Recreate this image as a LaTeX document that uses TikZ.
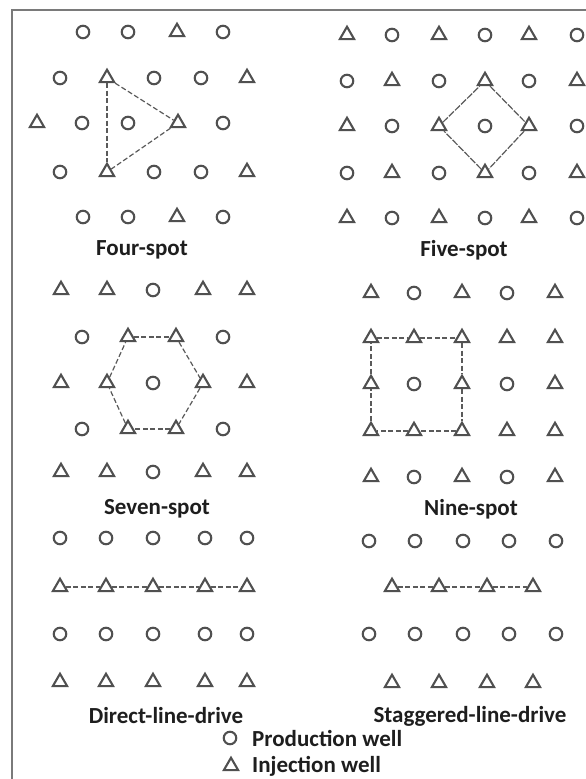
\documentclass[tikz,border=0pt]{standalone}
\usepackage{fontspec}
\setmainfont{Carlito}
\usetikzlibrary{shapes.geometric}
\definecolor{wellc}{HTML}{505050}
\definecolor{linec}{HTML}{5A5A5A}
\definecolor{framec}{HTML}{7A7A7A}
\definecolor{textc}{HTML}{1E1E1E}
\tikzset{
  prod/.style={circle, draw=wellc, line width=2.1pt, minimum size=12.5pt, inner sep=0pt},
  inj/.style={regular polygon, regular polygon sides=3, draw=wellc, line width=2.1pt, minimum size=16.5pt, inner sep=0pt},
  conn/.style={draw=linec, line width=1.2pt, dash pattern=on 5pt off 2.5pt},
  lbl/.style={font=\bfseries\fontsize{23}{27}\selectfont, text=textc, inner sep=0pt},
  framel/.style={draw=framec, line width=2.5pt}
}
\newcommand\mkP[3]{\node[prod] (#1) at (#2,#3) {};}
\newcommand\mkI[3]{\node[inj] (#1) at (#2,#3) {};}
\begin{document}
\begin{tikzpicture}[x=1pt,y=-1pt]
\useasboundingbox (0,0) rectangle (586,779);
\fill[white] (0,0) rectangle (586,779);
\coordinate (ftl) at (12,10);
\coordinate (ftr) at (586,10);
\coordinate (fbl) at (12,779);
\draw[framel] (ftr) -- (ftl) -- (fbl);
% ---------- Four-spot
\mkP{a11}{83}{32} \mkP{a12}{128}{32} \mkI{a13}{177}{32} \mkP{a14}{223}{32}
\mkP{a21}{60}{78} \mkI{a22}{107}{78} \mkP{a23}{154}{78} \mkP{a24}{201}{78} \mkI{a25}{247}{78}
\mkI{a31}{37}{123} \mkP{a32}{82}{123} \mkP{a33}{128}{123} \mkI{a34}{178}{123} \mkP{a35}{223}{123}
\mkP{a41}{60}{172} \mkI{a42}{107}{172} \mkP{a43}{154}{172} \mkP{a44}{201}{172} \mkI{a45}{247}{172}
\mkP{a51}{83}{217} \mkP{a52}{128}{217} \mkI{a53}{177}{217} \mkP{a54}{223}{217}
\draw[conn] (a22) -- (a42);
\draw[conn] (a22) -- (a34);
\draw[conn] (a34) -- (a42);
\node[lbl] (la) at (142,250) {Four-spot};
% ---------- Five-spot
\mkI{b11}{347}{35} \mkP{b12}{392}{35} \mkI{b13}{439}{35} \mkP{b14}{485}{35} \mkI{b15}{529}{35} \mkP{b16}{577}{35}
\mkP{b21}{347}{81} \mkI{b22}{392}{81} \mkP{b23}{439}{81} \mkI{b24}{485}{81} \mkP{b25}{529}{81} \mkI{b26}{577}{81}
\mkI{b31}{347}{126} \mkP{b32}{392}{126} \mkI{b33}{439}{126} \mkP{b34}{485}{126} \mkI{b35}{529}{126} \mkP{b36}{577}{126}
\mkP{b41}{347}{173} \mkI{b42}{392}{173} \mkP{b43}{439}{173} \mkI{b44}{485}{173} \mkP{b45}{529}{173} \mkI{b46}{577}{173}
\mkI{b51}{347}{218} \mkP{b52}{392}{218} \mkI{b53}{439}{218} \mkP{b54}{485}{218} \mkI{b55}{529}{218} \mkP{b56}{577}{218}
\draw[conn, dash pattern=on 7pt off 1.5pt] (b24) -- (b35);
\draw[conn, dash pattern=on 7pt off 1.5pt] (b35) -- (b44);
\draw[conn, dash pattern=on 7pt off 1.5pt] (b44) -- (b33);
\draw[conn, dash pattern=on 7pt off 1.5pt] (b33) -- (b24);
\node[lbl] (lb) at (464,250) {Five-spot};
% ---------- Seven-spot
\mkI{c11}{61}{290} \mkI{c12}{107}{290} \mkP{c13}{153}{290} \mkI{c14}{203}{290} \mkI{c15}{247}{290}
\mkP{c21}{82}{337} \mkI{c22}{128}{337} \mkI{c23}{176}{337} \mkP{c24}{223}{337}
\mkI{c31}{61}{383} \mkI{c32}{107}{383} \mkP{c33}{153}{383} \mkI{c34}{203}{383} \mkI{c35}{247}{383}
\mkP{c41}{82}{429} \mkI{c42}{128}{429} \mkI{c43}{176}{429} \mkP{c44}{223}{429}
\mkI{c51}{61}{472} \mkI{c52}{107}{472} \mkP{c53}{153}{472} \mkI{c54}{203}{472} \mkI{c55}{247}{472}
\draw[conn] (c22) -- (c23);
\draw[conn] (c23) -- (c34);
\draw[conn] (c34) -- (c43);
\draw[conn] (c43) -- (c42);
\draw[conn] (c42) -- (c32);
\draw[conn] (c32) -- (c22);
\node[lbl] (lc) at (157,509) {Seven-spot};
% ---------- Nine-spot
\mkI{d11}{371}{293} \mkP{d12}{414}{293} \mkI{d13}{462}{293} \mkP{d14}{507}{293} \mkI{d15}{555}{293}
\mkI{d21}{371}{338} \mkI{d22}{414}{338} \mkI{d23}{462}{338} \mkI{d24}{507}{338} \mkI{d25}{555}{338}
\mkI{d31}{371}{384} \mkP{d32}{414}{384} \mkI{d33}{462}{384} \mkP{d34}{507}{384} \mkI{d35}{555}{384}
\mkI{d41}{371}{431} \mkI{d42}{414}{431} \mkI{d43}{462}{431} \mkI{d44}{507}{431} \mkI{d45}{555}{431}
\mkI{d51}{371}{477} \mkP{d52}{414}{477} \mkI{d53}{462}{477} \mkP{d54}{507}{477} \mkI{d55}{555}{477}
\draw[conn] (d21) -- (d22);
\draw[conn] (d22) -- (d23);
\draw[conn] (d23) -- (d33);
\draw[conn] (d33) -- (d43);
\draw[conn] (d43) -- (d42);
\draw[conn] (d42) -- (d41);
\draw[conn] (d41) -- (d31);
\draw[conn] (d31) -- (d21);
\node[lbl] (ld) at (471,509) {Nine-spot};
% ---------- Direct-line-drive
\mkP{e11}{60}{538} \mkP{e12}{106}{538} \mkP{e13}{153}{538} \mkP{e14}{205}{538} \mkP{e15}{247}{538}
\mkI{e21}{60}{587} \mkI{e22}{106}{587} \mkI{e23}{153}{587} \mkI{e24}{205}{587} \mkI{e25}{247}{587}
\mkP{e31}{60}{634} \mkP{e32}{106}{634} \mkP{e33}{153}{634} \mkP{e34}{205}{634} \mkP{e35}{247}{634}
\mkI{e41}{60}{682} \mkI{e42}{106}{682} \mkI{e43}{153}{682} \mkI{e44}{205}{682} \mkI{e45}{247}{682}
\draw[conn] (e21) -- (e22);
\draw[conn] (e22) -- (e23);
\draw[conn] (e23) -- (e24);
\draw[conn] (e24) -- (e25);
\node[lbl] (le) at (166,716) {Direct-line-drive};
% ---------- Staggered-line-drive
\mkP{f11}{369}{541} \mkP{f12}{415}{541} \mkP{f13}{463}{541} \mkP{f14}{509}{541} \mkP{f15}{556}{541}
\mkI{f21}{392}{587} \mkI{f22}{439}{587} \mkI{f23}{487}{587} \mkI{f24}{533}{587}
\mkP{f31}{369}{634} \mkP{f32}{415}{634} \mkP{f33}{463}{634} \mkP{f34}{509}{634} \mkP{f35}{556}{634}
\mkI{f41}{392}{683} \mkI{f42}{439}{683} \mkI{f43}{487}{683} \mkI{f44}{533}{683}
\draw[conn] (f21) -- (f22);
\draw[conn] (f22) -- (f23);
\draw[conn] (f23) -- (f24);
\node[lbl] (lf) at (470,716) {Staggered-line-drive};
% ---------- Legend
\mkP{gP}{230}{738}
\mkI{gI}{231}{766}
\node[lbl, anchor=west] (gPt) at (252,738) {Production well};
\node[lbl, anchor=west] (gIt) at (252,766) {Injection well};
\end{tikzpicture}
\end{document}
